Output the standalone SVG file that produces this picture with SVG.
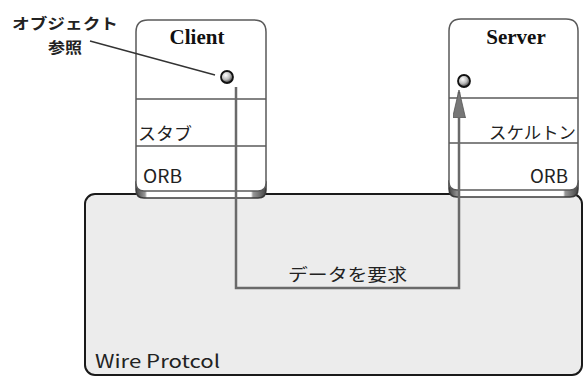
<svg xmlns="http://www.w3.org/2000/svg" width="583" height="377" viewBox="0 0 583 377">
  <style>
    .box { fill: #ffffff; stroke: #5a5a5a; stroke-width: 1.5; }
    .ext { fill: url(#extGrad); stroke: #3a3a3a; stroke-width: 1.5; }
    .sep { stroke: #5a5a5a; stroke-width: 1.5; fill: none; }
    .title { font-family: "Liberation Serif", "Times New Roman", serif; font-weight: bold; font-size: 21px; fill: #111; }
    .jp { font-family: "Noto Sans CJK JP", "DejaVu Sans", sans-serif; font-size: 17px; fill: #222; }
    .jpb { font-family: "Noto Sans CJK JP", "DejaVu Sans", sans-serif; font-size: 15px; font-weight: bold; fill: #222; }
    .lat { font-family: "Noto Sans CJK JP", "DejaVu Sans", sans-serif; font-size: 18px; fill: #222; }
    .conn { fill: none; stroke: #6a6a6a; stroke-width: 2.5; }
    .ball { fill: url(#ballGrad); stroke: #111; stroke-width: 1.8; }
  </style>
  <defs>
    <linearGradient id="extGrad" x1="0" y1="0" x2="1" y2="0">
      <stop offset="0" stop-color="#444"/>
      <stop offset="0.07" stop-color="#999"/>
      <stop offset="0.085" stop-color="#fff"/>
      <stop offset="0.885" stop-color="#fff"/>
      <stop offset="0.9" stop-color="#999"/>
      <stop offset="1" stop-color="#444"/>
    </linearGradient>
    <radialGradient id="ballGrad" cx="0.4" cy="0.35" r="0.6">
      <stop offset="0" stop-color="#ffffff"/>
      <stop offset="0.6" stop-color="#bbbbbb"/>
      <stop offset="1" stop-color="#555555"/>
    </radialGradient>
    <marker id="arrow" viewBox="0 0 28 13" refX="26" refY="6.5" markerWidth="28" markerHeight="13" markerUnits="userSpaceOnUse" orient="auto">
      <path d="M0,0 L28,6.5 L0,13 Z" fill="#777" stroke="#555" stroke-width="0.8"/>
    </marker>
  </defs>

  <g id="wire-protocol">
    <rect x="85" y="194" width="497" height="181" rx="10" ry="10" fill="#ececec" stroke="#1a1a1a" stroke-width="2"/>
    <text class="lat" x="95" y="368" font-size="19" textLength="125" lengthAdjust="spacingAndGlyphs">Wire Protcol</text>
  </g>

  <g id="client">
    <path class="ext" d="M136,182 V190 Q136,198 144,198 H258 Q266,198 266,190 V182 Z"/>
    <path class="box" d="M136,32 Q136,20 148,20 H254 Q266,20 266,32 V183 Q266,191 258,191 H144 Q136,191 136,183 Z"/>
    <line class="sep" x1="136" y1="99" x2="266" y2="99"/>
    <line class="sep" x1="136" y1="146" x2="266" y2="146"/>
    <text class="title" x="197" y="44" text-anchor="middle">Client</text>
    <circle class="ball" cx="227" cy="77" r="6"/>
    <text class="jp" x="138" y="140" textLength="54" lengthAdjust="spacingAndGlyphs">スタブ</text>
    <text class="lat" x="143" y="183" textLength="39" lengthAdjust="spacingAndGlyphs">ORB</text>
  </g>

  <g id="server">
    <path class="ext" d="M449,181 V189 Q449,197 457,197 H570 Q578,197 578,189 V181 Z"/>
    <path class="box" d="M449,31 Q449,19 461,19 H566 Q578,19 578,31 V182 Q578,190 570,190 H457 Q449,190 449,182 Z"/>
    <line class="sep" x1="449" y1="98" x2="578" y2="98"/>
    <line class="sep" x1="449" y1="143" x2="578" y2="143"/>
    <text class="title" x="516" y="44" text-anchor="middle">Server</text>
    <circle class="ball" cx="464" cy="81" r="6"/>
    <text class="jp" x="489" y="139" textLength="87" lengthAdjust="spacingAndGlyphs">スケルトン</text>
    <text class="lat" x="530" y="183" textLength="38" lengthAdjust="spacingAndGlyphs">ORB</text>
  </g>

  <g id="object-ref-label">
    <text class="jpb" x="12" y="29" textLength="106" lengthAdjust="spacingAndGlyphs">オブジェクト</text>
    <text class="jpb" x="48" y="53" font-size="14" textLength="34" lengthAdjust="spacingAndGlyphs">参照</text>
  </g>

  <g id="connectors">
    <line x1="90" y1="41" x2="215" y2="75" stroke="#333" stroke-width="1.3"/>
    <path class="conn" d="M236,87 V288 H459 V92" marker-end="url(#arrow)"/>
    <text class="jp" x="288" y="281" textLength="119" lengthAdjust="spacingAndGlyphs">データを要求</text>
  </g>
</svg>
